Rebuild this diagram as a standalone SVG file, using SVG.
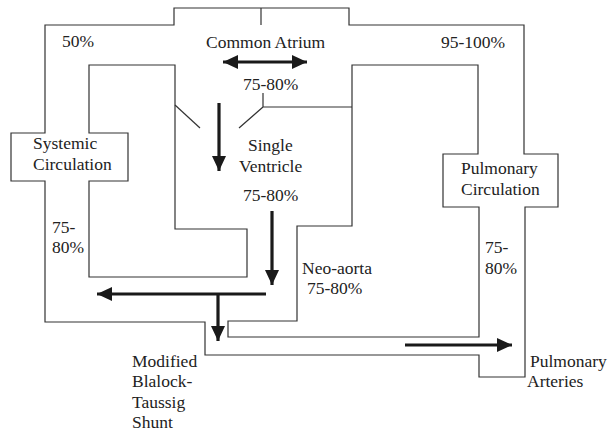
<svg xmlns="http://www.w3.org/2000/svg" width="608" height="431" viewBox="0 0 608 431">
<defs>
<style>
.ln{fill:none;stroke:#333;stroke-width:1.2;stroke-linejoin:miter}
.ar{fill:none;stroke:#1a1a1a;stroke-width:3.2}
.t{font-family:'Liberation Serif',serif;font-size:17.5px;fill:#222}
</style>
<marker id="ah" markerUnits="userSpaceOnUse" markerWidth="16" markerHeight="16" viewBox="0 0 16 16" refX="15" refY="8" orient="auto-start-reverse">
<path d="M0,1 L15,8 L0,15 Z" fill="#1a1a1a"/>
</marker>
</defs>
<rect width="608" height="431" fill="#fff"/>
<g id="outer-circuit">
<path class="ln" d="M45,25 H174 V8 H349 V25 H524 V154 H558 V207 H525 V377 H479 V355 H205 V322 H45 V181 H11 V133 H45 Z"/>
<path class="ln" d="M261,8 V25"/>
</g>
<g id="systemic-loop">
<path class="ln" d="M89,65 H175 V229 H247 V277 H89 V181 H128 V133 H89 Z"/>
<path class="ln" d="M175,105 L200,128"/>
</g>
<g id="pulmonary-loop">
<path class="ln" d="M352,65 H478 V154 H443 V207 H479 V337 H228 V321 H297 V226 H352 Z"/>
<path class="ln" d="M263,93 V107 H352 M263,107 L239,128"/>
</g>
<g id="labels" class="t" font-family="Liberation Serif, serif">
<g id="common-atrium"><text x="206" y="48">Common Atrium</text><text x="243" y="90">75-80%</text></g>
<g id="single-ventricle"><text x="248" y="151">Single</text><text x="239" y="172">Ventricle</text><text x="243" y="201">75-80%</text></g>
<g id="systemic-circulation"><text x="33" y="149">Systemic</text><text x="33" y="170">Circulation</text></g>
<g id="pulmonary-circulation"><text x="461" y="174">Pulmonary</text><text x="461" y="195">Circulation</text></g>
<g id="sat-50"><text x="62" y="47">50%</text></g>
<g id="sat-95"><text x="441" y="48">95-100%</text></g>
<g id="sat-left"><text x="52" y="233">75-</text><text x="52" y="253">80%</text></g>
<g id="sat-right"><text x="485" y="253">75-</text><text x="485" y="274">80%</text></g>
<g id="neo-aorta"><text x="302" y="274">Neo-aorta</text><text x="307" y="294">75-80%</text></g>
<g id="bt-shunt"><text x="132" y="367">Modified</text><text x="132" y="387">Blalock-</text><text x="132" y="408">Taussig</text><text x="132" y="428">Shunt</text></g>
<g id="pulmonary-arteries"><text x="530" y="367">Pulmonary</text><text x="527" y="387">Arteries</text></g>
</g>
<g id="connectors">
<path class="ar" d="M223,62 H307" marker-start="url(#ah)" marker-end="url(#ah)"/>
<path class="ar" d="M219,103 V171" marker-end="url(#ah)"/>
<path class="ar" d="M272,211 V285" marker-end="url(#ah)"/>
<path class="ar" d="M266,294 H97" marker-end="url(#ah)"/>
<path class="ar" d="M218,294 V341" marker-end="url(#ah)"/>
<path class="ar" d="M405,345 H512" marker-end="url(#ah)"/>
</g>
</svg>
